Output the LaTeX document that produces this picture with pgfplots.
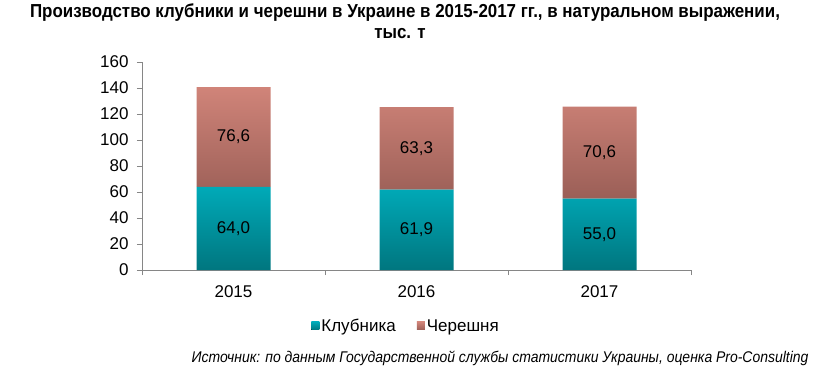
\documentclass[border=0pt]{standalone}
\usepackage{pgfplots}
\pgfplotsset{compat=1.18}
\usepackage{fontspec}
\setmainfont{Liberation Sans}
\newfontfamily\narrowfont[FakeStretch=0.9]{Liberation Sans}
\definecolor{tealtop}{RGB}{0,170,184}
\definecolor{tealbot}{RGB}{0,118,127}
\definecolor{saltop}{RGB}{208,132,121}
\definecolor{salbot}{RGB}{155,95,87}
\definecolor{axgray}{RGB}{134,134,134}
\begin{document}
\begin{tikzpicture}
\useasboundingbox (0,0) rectangle (835pt,-378pt);
\node[font=\narrowfont\bfseries\fontsize{18.8}{22}\selectfont] at (405pt,-13pt) {Производство клубники и черешни в Украине в 2015-2017 гг., в натуральном выражении,};
\node[font=\narrowfont\bfseries\fontsize{18.8}{22}\selectfont] at (400pt,-34pt) {тыс. т};
\begin{axis}[
  at={(142pt,-270pt)}, anchor=south west, scale only axis,
  width=549pt, height=208pt,
  ybar stacked, bar width=74pt,
  xmin=-0.5, xmax=2.5, ymin=0, ymax=160,
  xtick={-0.5,0.5,1.5,2.5}, xticklabels={},
  extra x ticks={0,1,2}, extra x tick labels={2015,2016,2017},
  extra x tick style={major tick length=0pt},
  ytick={0,20,...,160},
  /pgf/number format/assume math mode=true,
  axis x line*=bottom, axis y line*=left,
  axis line style={axgray,-},
  tick style={axgray}, tick align=outside, major tick length=5pt,
  ticklabel style={font=\fontsize{17}{20}\selectfont, text=black},
  xticklabel style={yshift=-12pt},
  yticklabel style={xshift=-5pt},
  legend columns=2,
  legend style={draw=none, at={(0.481,-0.269)}, anchor=center,
    font=\fontsize{17}{20}\selectfont,
    /tikz/every even column/.append style={column sep=19pt}},
  legend image code/.code={\fill[#1] (0pt,-4pt) rectangle (8pt,4pt);},
]
\addplot[draw=none, top color=tealtop, bottom color=tealbot] coordinates {(0,64.0) (1,61.9) (2,55.0)};
\addplot[draw=none, top color=saltop, bottom color=salbot] coordinates {(0,76.6) (1,63.3) (2,70.6)};
\legend{Клубника, Черешня}
\end{axis}
\begin{axis}[
  at={(142pt,-270pt)}, anchor=south west, scale only axis,
  width=549pt, height=208pt,
  xmin=-0.5, xmax=2.5, ymin=0, ymax=160, hide axis,
  nodes near coords, point meta=explicit symbolic,
  nodes near coords style={anchor=center, font=\fontsize{17}{20}\selectfont, text=black},
]
\addplot[draw=none, mark=none] table[meta=lab] {
x y lab
0 32 64,0
1 30.95 61,9
2 27.5 55,0
0 102.3 76,6
1 93.55 63,3
2 90.3 70,6
};
\end{axis}
\node[anchor=east, font=\narrowfont\itshape\fontsize{15.5}{18}\selectfont] at (812pt,-358pt) {Источник: по данным Государственной службы статистики Украины, оценка Pro-Consulting};
\end{tikzpicture}
\end{document}
